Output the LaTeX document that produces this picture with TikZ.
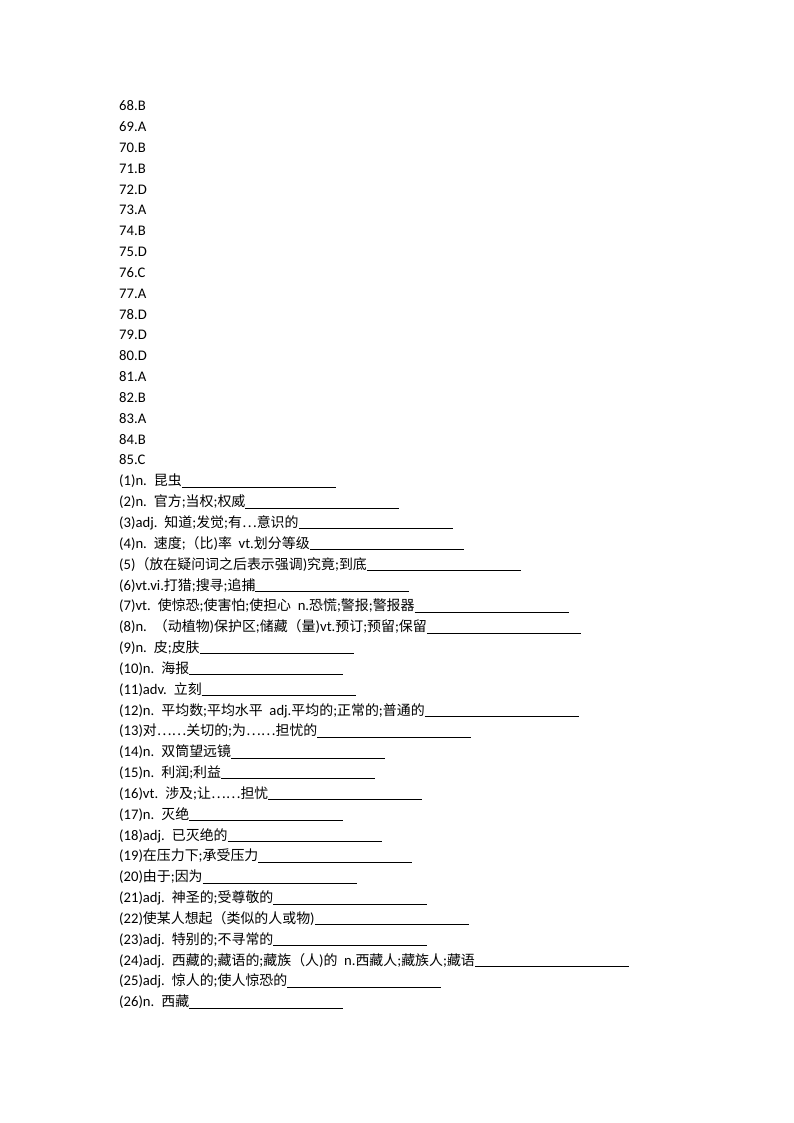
\documentclass[tikz,border=0pt]{standalone}
\usepackage{fontspec}
\setmainfont{Carlito}
\newfontfamily\cjkf[Scale=0.95]{Noto Sans CJK SC}
\newcommand\zh[1]{{\cjkf #1}}
\newcommand\blank{\rule[-1.8pt]{154pt}{0.9pt}}
\newcommand\tsp{\hspace{7pt}}
\tikzset{txt/.style={anchor=base west,inner sep=0pt,font=\fontsize{14.67pt}{18pt}\selectfont}}
\newcommand\pline[2]{\node[txt] (l#1) at (119,{-(110.7+20.84*#1)}) {#2};}
\begin{document}
\begin{tikzpicture}[x=1pt,y=1pt]
\useasboundingbox (0,0) rectangle (794,-1123);
\pline{0}{68.B}
\pline{1}{69.A}
\pline{2}{70.B}
\pline{3}{71.B}
\pline{4}{72.D}
\pline{5}{73.A}
\pline{6}{74.B}
\pline{7}{75.D}
\pline{8}{76.C}
\pline{9}{77.A}
\pline{10}{78.D}
\pline{11}{79.D}
\pline{12}{80.D}
\pline{13}{81.A}
\pline{14}{82.B}
\pline{15}{83.A}
\pline{16}{84.B}
\pline{17}{85.C}
\pline{18}{(1)n.\tsp\zh{昆虫}\blank}
\pline{19}{(2)n.\tsp\zh{官方};\zh{当权};\zh{权威}\blank}
\pline{20}{(3)adj.\tsp\zh{知道};\zh{发觉};\zh{有⋯意识的}\blank}
\pline{21}{(4)n.\tsp\zh{速度};\zh{（比}){\zh{率}}\ \ vt.\zh{划分等级}\blank}
\pline{22}{(5)\zh{（放在疑问词之后表示强调}){\zh{究竟}};\zh{到底}\blank}
\pline{23}{(6)vt.vi.\zh{打猎};\zh{搜寻};\zh{追捕}\blank}
\pline{24}{(7)vt.\tsp\zh{使惊恐};\zh{使害怕};\zh{使担心}\ \ n.\zh{恐慌};\zh{警报};\zh{警报器}\blank}
\pline{25}{(8)n.\tsp\zh{（动植物}){\zh{保护区}};\zh{储藏（量}){vt.}\zh{预订};\zh{预留};\zh{保留}\blank}
\pline{26}{(9)n.\tsp\zh{皮};\zh{皮肤}\blank}
\pline{27}{(10)n.\tsp\zh{海报}\blank}
\pline{28}{(11)adv.\tsp\zh{立刻}\blank}
\pline{29}{(12)n.\tsp\zh{平均数};\zh{平均水平}\ \ adj.\zh{平均的};\zh{正常的};\zh{普通的}\blank}
\pline{30}{(13)\zh{对⋯⋯关切的};\zh{为⋯⋯担忧的}\blank}
\pline{31}{(14)n.\tsp\zh{双筒望远镜}\blank}
\pline{32}{(15)n.\tsp\zh{利润};\zh{利益}\blank}
\pline{33}{(16)vt.\tsp\zh{涉及};\zh{让⋯⋯担忧}\blank}
\pline{34}{(17)n.\tsp\zh{灭绝}\blank}
\pline{35}{(18)adj.\tsp\zh{已灭绝的}\blank}
\pline{36}{(19)\zh{在压力下};\zh{承受压力}\blank}
\pline{37}{(20)\zh{由于};\zh{因为}\blank}
\pline{38}{(21)adj.\tsp\zh{神圣的};\zh{受尊敬的}\blank}
\pline{39}{(22)\zh{使某人想起（类似的人或物})\blank}
\pline{40}{(23)adj.\tsp\zh{特别的};\zh{不寻常的}\blank}
\pline{41}{(24)adj.\tsp\zh{西藏的};\zh{藏语的};\zh{藏族（人}){\zh{的}}\ \ n.\zh{西藏人};\zh{藏族人};\zh{藏语}\blank}
\pline{42}{(25)adj.\tsp\zh{惊人的};\zh{使人惊恐的}\blank}
\pline{43}{(26)n.\tsp\zh{西藏}\blank}
\end{tikzpicture}
\end{document}
